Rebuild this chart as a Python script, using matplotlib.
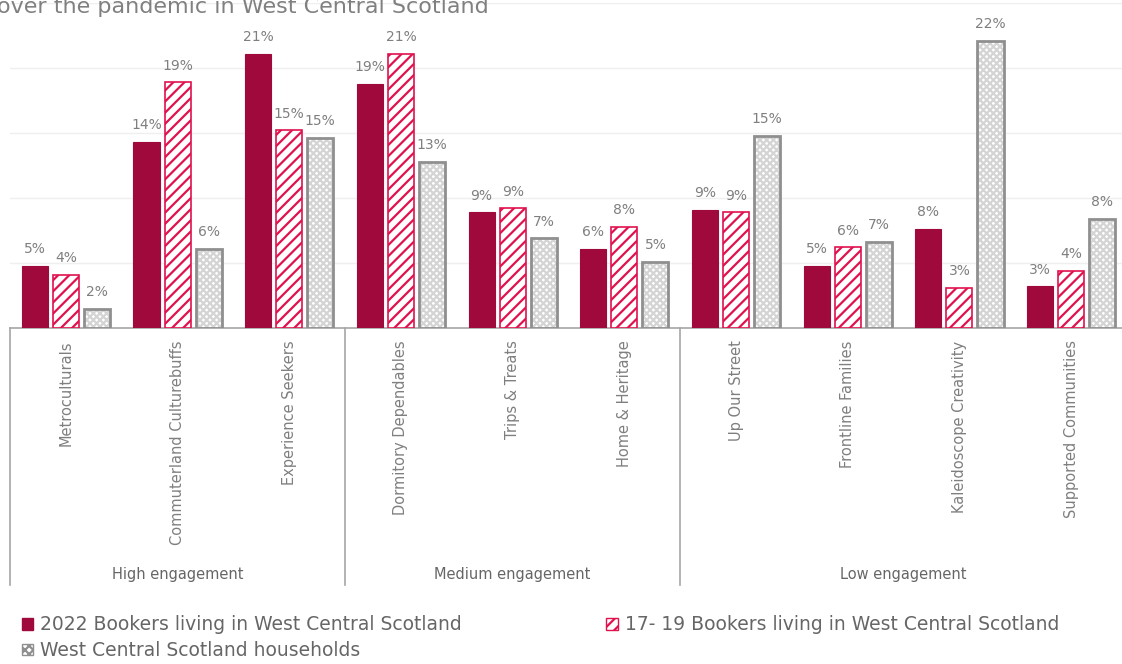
"""Audience segment profile: bookers vs households, West Central Scotland."""
import matplotlib
matplotlib.use("Agg")
import matplotlib.pyplot as plt
import matplotlib.transforms as mtransforms
from matplotlib.patches import Patch
import numpy as np

# Segment names, engagement groups and shares (fractions)
segments = [
    "Metroculturals", "Commuterland Culturebuffs", "Experience Seekers",
    "Dormitory Dependables", "Trips & Treats", "Home & Heritage",
    "Up Our Street", "Frontline Families", "Kaleidoscope Creativity",
    "Supported Communities",
]
groups = ["High engagement", "Medium engagement", "Low engagement"]
group_sizes = [3, 3, 4]

bookers_2022 = [0.048, 0.143, 0.211, 0.188, 0.089, 0.061, 0.091, 0.048, 0.076, 0.032]
bookers_1719 = [0.041, 0.189, 0.152, 0.211, 0.092, 0.078, 0.089, 0.062, 0.031, 0.044]
households = [0.015, 0.061, 0.146, 0.128, 0.069, 0.051, 0.148, 0.066, 0.221, 0.084]

series_names = [
    "2022 Bookers living in West Central Scotland",
    "17- 19 Bookers living in West Central Scotland",
    "West Central Scotland households",
]

crimson = "#A0093B"
pink = "#E0124E"
grey_edge = "#8f8f8f"
grey_hatch = "#d4d4d4"
text_grey = "#7f7f7f"

plt.rcParams["font.family"] = "DejaVu Sans"
plt.rcParams["hatch.linewidth"] = 1.6

fig = plt.figure(figsize=(11.22, 6.64), dpi=100)
W, H = 1122.0, 664.0
# axes spans past the right edge of the figure
ax = fig.add_axes([10 / W, (H - 328) / H, 1117 / W, 325 / H])

x = np.arange(len(segments))
bw = 0.233
step = 0.278

b1 = ax.bar(x - step, bookers_2022, bw, color=crimson, edgecolor=crimson, lw=0.8, zorder=3)
b2 = ax.bar(x, bookers_1719, bw, facecolor="white", edgecolor=pink, hatch="///", lw=1.2, zorder=3)
b3 = ax.bar(x + step, households, bw, facecolor="white", edgecolor=grey_hatch, hatch="xxxxx", lw=0, zorder=3)
ax.bar(x + step, households, bw, facecolor="none", edgecolor=grey_edge, lw=2, zorder=4)

# value labels
for bars, vals in [(b1, bookers_2022), (b2, bookers_1719), (b3, households)]:
    for rect, v in zip(bars, vals):
        ax.annotate(f"{v * 100:.0f}%", (rect.get_x() + rect.get_width() / 2, v),
                    xytext=(0, 7), textcoords="offset points", ha="center", va="bottom",
                    fontsize=10, color=text_grey)

ax.set_xlim(-0.5, len(segments) - 0.5)
ax.set_ylim(0, 0.25)
ax.set_yticks(np.arange(0.05, 0.26, 0.05))
ax.yaxis.grid(True, color="#efefef", lw=1, zorder=0)
ax.tick_params(axis="y", left=False, labelleft=False)
ax.tick_params(axis="x", length=0, pad=9)
ax.set_xticks(x)
ax.set_xticklabels(segments, rotation=90, va="top", ha="center", fontsize=10.5, color=text_grey)
for s in ["top", "right", "left"]:
    ax.spines[s].set_visible(False)
ax.spines["bottom"].set_color("#a6a6a6")
ax.spines["bottom"].set_linewidth(1.2)

# group separators and group names below the category labels
trans = mtransforms.blended_transform_factory(ax.transData, ax.transAxes)
bounds = np.concatenate([[0], np.cumsum(group_sizes)]) - 0.5
for b in bounds:
    ax.plot([b, b], [0, -0.79], transform=trans, color="#a6a6a6", lw=1.2, clip_on=False)
for name, lo, hi in zip(groups, bounds[:-1], bounds[1:]):
    ax.text((lo + hi) / 2, -0.757, name, transform=trans, ha="center", va="center",
            fontsize=10.5, color="#666666")

# title, partly cut off at the top
fig.text(-3 / W, 1 - 13 / H, "over the pandemic in West Central Scotland",
         fontsize=16, color="#808080", va="baseline", ha="left")

handles = [
    Patch(facecolor=crimson, edgecolor=crimson),
    Patch(facecolor="white", edgecolor=grey_edge, hatch="xxxx"),
    Patch(facecolor="white", edgecolor=pink, hatch="///"),
]
labels = [series_names[0], series_names[2], series_names[1]]
leg = fig.legend(handles, labels, ncol=2, loc="upper left", bbox_to_anchor=(14 / W, 1 - 608 / H),
                 frameon=False, fontsize=13.5, handlelength=0.6, handleheight=0.6,
                 handletextpad=0.4, columnspacing=7.7, labelspacing=0.35, borderaxespad=0)
for t in leg.get_texts():
    t.set_color("#666666")

fig.savefig("out.png", dpi=100)
